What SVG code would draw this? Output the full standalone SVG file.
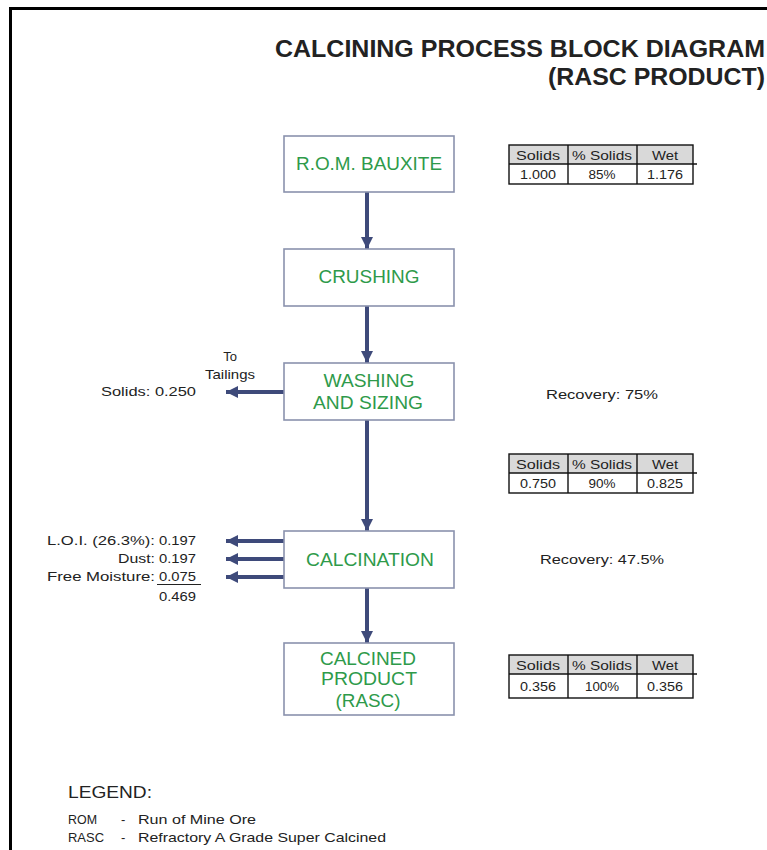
<svg xmlns="http://www.w3.org/2000/svg" width="767" height="850" viewBox="0 0 767 850">
<style>
text{font-family:"Liberation Sans",Arial,sans-serif;fill:#222}
.box{fill:#fff;stroke:#8a92ad;stroke-width:1.6}
.lbl{fill:#2e9a4a;font-size:18.5px;text-anchor:middle}
.conn{stroke:#3e4a7a;stroke-width:4;fill:none}
.tb{stroke:#111;stroke-width:1.4;fill:none}
.th{fill:#d9d9d9}
.tt{font-size:13px;text-anchor:middle}
.sm{font-size:13px}
.r{text-anchor:end}
</style>
<defs>
<marker id="ah" markerUnits="userSpaceOnUse" markerWidth="14" markerHeight="14" viewBox="0 0 14 14" refX="12" refY="7" orient="auto">
<path d="M0,1 L12,7 L0,13 Z" fill="#3e4a7a"/>
</marker>
</defs>
<rect width="767" height="850" fill="#fff"/>
<path d="M10.5,850 V8.5 H767" stroke="#000" stroke-width="3" fill="none"/>
<g id="title">
<text x="765" y="57" font-size="23" font-weight="bold" text-anchor="end" textLength="490" lengthAdjust="spacingAndGlyphs">CALCINING PROCESS BLOCK DIAGRAM</text>
<text x="765" y="85" font-size="23" font-weight="bold" text-anchor="end" textLength="217" lengthAdjust="spacingAndGlyphs">(RASC PRODUCT)</text>
</g>
<g id="connectors">
<line class="conn" x1="367" y1="192" x2="367" y2="249" marker-end="url(#ah)"/>
<line class="conn" x1="367" y1="306" x2="367" y2="363" marker-end="url(#ah)"/>
<line class="conn" x1="367" y1="420" x2="367" y2="531" marker-end="url(#ah)"/>
<line class="conn" x1="367" y1="588" x2="367" y2="643" marker-end="url(#ah)"/>
<line class="conn" x1="284" y1="392" x2="226" y2="392" stroke-width="3" marker-end="url(#ah)"/>
<line class="conn" x1="284" y1="541" x2="226" y2="541" stroke-width="3" marker-end="url(#ah)"/>
<line class="conn" x1="284" y1="559" x2="226" y2="559" stroke-width="3" marker-end="url(#ah)"/>
<line class="conn" x1="284" y1="577" x2="226" y2="577" stroke-width="3" marker-end="url(#ah)"/>
</g>
<g id="rom">
<rect class="box" x="284" y="136" width="170" height="56"/>
<text class="lbl" x="369" y="170" textLength="146" lengthAdjust="spacingAndGlyphs">R.O.M. BAUXITE</text>
</g>
<g id="crushing">
<rect class="box" x="284" y="249" width="170" height="57"/>
<text class="lbl" x="369" y="283" textLength="101" lengthAdjust="spacingAndGlyphs">CRUSHING</text>
</g>
<g id="washing">
<rect class="box" x="284" y="363" width="170" height="57"/>
<text class="lbl" x="369" y="387" textLength="91" lengthAdjust="spacingAndGlyphs">WASHING</text>
<text class="lbl" x="368" y="409" textLength="110" lengthAdjust="spacingAndGlyphs">AND SIZING</text>
</g>
<g id="calcination">
<rect class="box" x="284" y="531" width="170" height="57"/>
<text class="lbl" x="370" y="566" textLength="128" lengthAdjust="spacingAndGlyphs">CALCINATION</text>
</g>
<g id="product">
<rect class="box" x="284" y="643" width="170" height="72"/>
<text class="lbl" x="368" y="665" textLength="96" lengthAdjust="spacingAndGlyphs">CALCINED</text>
<text class="lbl" x="369" y="685" textLength="96" lengthAdjust="spacingAndGlyphs">PRODUCT</text>
<text class="lbl" x="368" y="707" textLength="65" lengthAdjust="spacingAndGlyphs">(RASC)</text>
</g>
<g id="table1">
<rect class="th" x="509" y="145" width="184" height="19"/>
<rect class="tb" x="509" y="145" width="184" height="39"/>
<line class="tb" x1="509" y1="164" x2="697" y2="164"/>
<line class="tb" x1="568" y1="145" x2="568" y2="184"/>
<line class="tb" x1="637" y1="145" x2="637" y2="184"/>
<text class="tt" x="538" y="160" textLength="44" lengthAdjust="spacingAndGlyphs">Solids</text>
<text class="tt" x="602" y="160" textLength="60" lengthAdjust="spacingAndGlyphs">% Solids</text>
<text class="tt" x="665" y="160" textLength="26" lengthAdjust="spacingAndGlyphs">Wet</text>
<text class="tt" x="538" y="179" textLength="36" lengthAdjust="spacingAndGlyphs">1.000</text>
<text class="tt" x="602" y="179" textLength="27" lengthAdjust="spacingAndGlyphs">85%</text>
<text class="tt" x="665" y="179" textLength="36" lengthAdjust="spacingAndGlyphs">1.176</text>
</g>
<g id="table2">
<rect class="th" x="509" y="454" width="184" height="19"/>
<rect class="tb" x="509" y="454" width="184" height="39"/>
<line class="tb" x1="509" y1="473" x2="697" y2="473"/>
<line class="tb" x1="568" y1="454" x2="568" y2="493"/>
<line class="tb" x1="637" y1="454" x2="637" y2="493"/>
<text class="tt" x="538" y="469" textLength="44" lengthAdjust="spacingAndGlyphs">Solids</text>
<text class="tt" x="602" y="469" textLength="60" lengthAdjust="spacingAndGlyphs">% Solids</text>
<text class="tt" x="665" y="469" textLength="26" lengthAdjust="spacingAndGlyphs">Wet</text>
<text class="tt" x="538" y="488" textLength="36" lengthAdjust="spacingAndGlyphs">0.750</text>
<text class="tt" x="602" y="488" textLength="27" lengthAdjust="spacingAndGlyphs">90%</text>
<text class="tt" x="665" y="488" textLength="36" lengthAdjust="spacingAndGlyphs">0.825</text>
</g>
<g id="table3">
<rect class="th" x="509" y="655" width="184" height="19"/>
<rect class="tb" x="509" y="655" width="184" height="43"/>
<line class="tb" x1="509" y1="674" x2="697" y2="674"/>
<line class="tb" x1="568" y1="655" x2="568" y2="698"/>
<line class="tb" x1="637" y1="655" x2="637" y2="698"/>
<text class="tt" x="538" y="670" textLength="44" lengthAdjust="spacingAndGlyphs">Solids</text>
<text class="tt" x="602" y="670" textLength="60" lengthAdjust="spacingAndGlyphs">% Solids</text>
<text class="tt" x="665" y="670" textLength="26" lengthAdjust="spacingAndGlyphs">Wet</text>
<text class="tt" x="538" y="691" textLength="36" lengthAdjust="spacingAndGlyphs">0.356</text>
<text class="tt" x="602" y="691" textLength="34" lengthAdjust="spacingAndGlyphs">100%</text>
<text class="tt" x="665" y="691" textLength="36" lengthAdjust="spacingAndGlyphs">0.356</text>
</g>
<g id="recovery">
<text class="sm" x="546" y="399" textLength="112" lengthAdjust="spacingAndGlyphs">Recovery:  75%</text>
<text class="sm" x="540" y="564" textLength="124" lengthAdjust="spacingAndGlyphs">Recovery:  47.5%</text>
</g>
<g id="tailings">
<text class="sm" x="230" y="361" text-anchor="middle">To</text>
<text class="sm" x="230" y="379" text-anchor="middle" textLength="50" lengthAdjust="spacingAndGlyphs">Tailings</text>
<text class="sm" x="101" y="396" textLength="95" lengthAdjust="spacingAndGlyphs">Solids:  0.250</text>
</g>
<g id="losses">
<text class="sm r" x="155" y="545" textLength="108" lengthAdjust="spacingAndGlyphs">L.O.I. (26.3%):</text>
<text class="sm" x="159" y="545" textLength="37" lengthAdjust="spacingAndGlyphs">0.197</text>
<text class="sm r" x="155" y="563" textLength="37" lengthAdjust="spacingAndGlyphs">Dust:</text>
<text class="sm" x="159" y="563" textLength="37" lengthAdjust="spacingAndGlyphs">0.197</text>
<text class="sm r" x="155" y="581" textLength="108" lengthAdjust="spacingAndGlyphs">Free Moisture:</text>
<text class="sm" x="159" y="581" textLength="37" lengthAdjust="spacingAndGlyphs">0.075</text>
<line x1="157" y1="584.5" x2="201" y2="584.5" stroke="#222" stroke-width="1.2"/>
<text class="sm" x="159" y="601" textLength="37" lengthAdjust="spacingAndGlyphs">0.469</text>
</g>
<g id="legend">
<text x="68" y="798" font-size="16" textLength="84" lengthAdjust="spacingAndGlyphs">LEGEND:</text>
<text class="sm" x="68" y="824" textLength="29" lengthAdjust="spacingAndGlyphs">ROM</text>
<text class="sm" x="121" y="824">-</text>
<text class="sm" x="138" y="824" textLength="118" lengthAdjust="spacingAndGlyphs">Run of Mine Ore</text>
<text class="sm" x="68" y="842" textLength="36" lengthAdjust="spacingAndGlyphs">RASC</text>
<text class="sm" x="121" y="842">-</text>
<text class="sm" x="138" y="842" textLength="248" lengthAdjust="spacingAndGlyphs">Refractory A Grade Super Calcined</text>
</g>
</svg>
